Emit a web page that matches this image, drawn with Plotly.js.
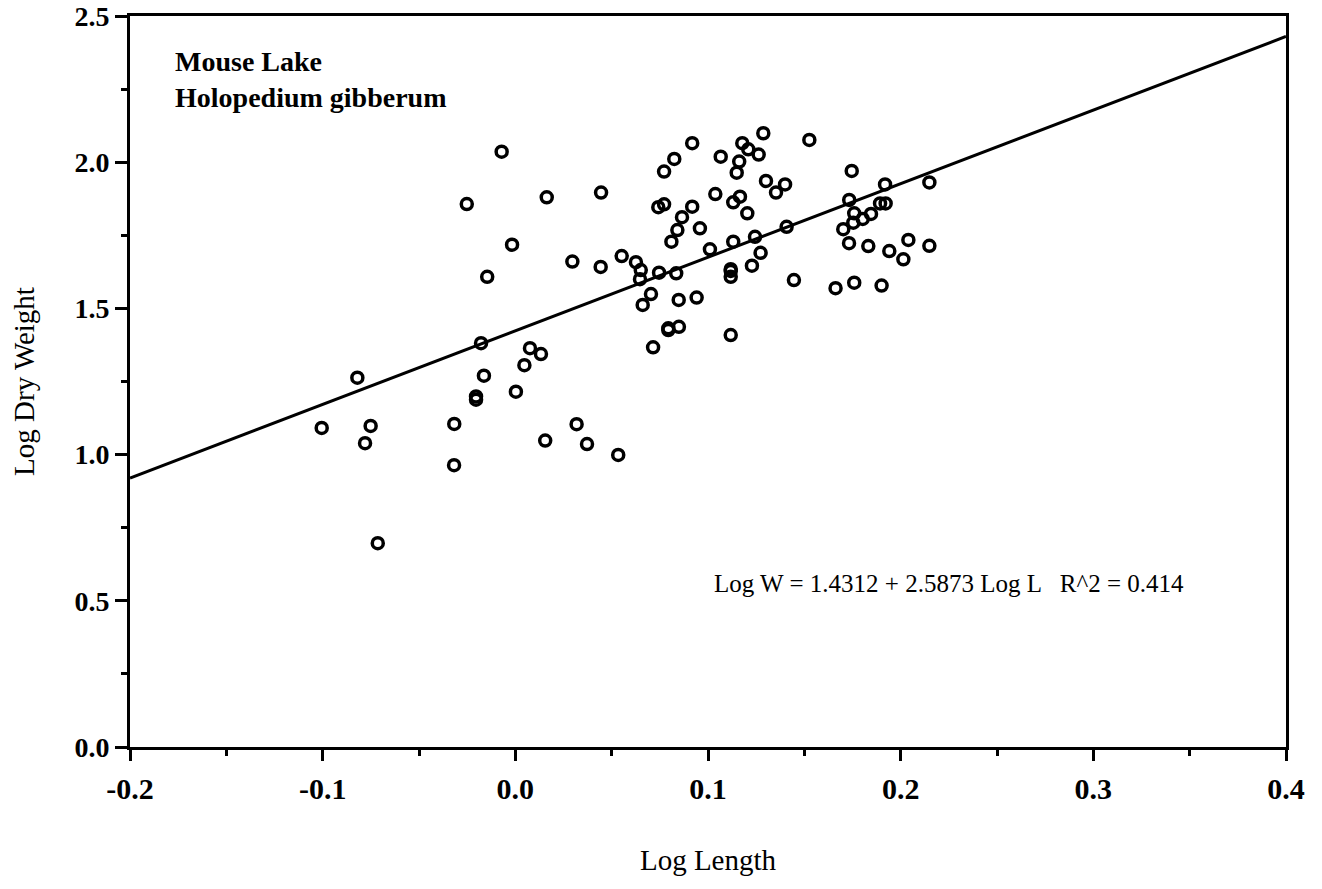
<!DOCTYPE html>
<html>
<head>
<meta charset="utf-8">
<script src="https://cdn.plot.ly/plotly-3.0.1.min.js"></script>
<style>
  html, body { margin: 0; padding: 0; background: #ffffff; }
  #chart { width: 1322px; height: 889px; }
</style>
</head>
<body>
<div id="chart"></div>
<script>
// Observed points: Log Length (x) and Log Dry Weight (y)
const logLength = [
  -0.1005, -0.0820, -0.0780, -0.0751, -0.0714, -0.0317, -0.0318, -0.0252, -0.0163, -0.0178,
  -0.0146, -0.0204, -0.0204, -0.0071, -0.0017, 0.0003, 0.0047, 0.0076, 0.0133, 0.0155,
  0.0163, 0.0296, 0.0318, 0.0372, 0.0445, 0.0443, 0.0534, 0.0552, 0.0626, 0.0651,
  0.0647, 0.0661, 0.0704, 0.0715, 0.0746, 0.0742, 0.0772, 0.0772, 0.0794, 0.0794,
  0.0810, 0.0825, 0.0835, 0.0841, 0.0848, 0.0849, 0.0865, 0.0918, 0.0918, 0.0941,
  0.0958, 0.1010, 0.1038, 0.1066, 0.1118, 0.1118, 0.1118, 0.1118, 0.1131, 0.1131,
  0.1149, 0.1162, 0.1166, 0.1178, 0.1204, 0.1209, 0.1228, 0.1244, 0.1263, 0.1273,
  0.1287, 0.1301, 0.1353, 0.1400, 0.1408, 0.1446, 0.1526, 0.1662, 0.1702, 0.1732,
  0.1733, 0.1746, 0.1754, 0.1759, 0.1759, 0.1803, 0.1832, 0.1846, 0.1893, 0.1901,
  0.1919, 0.1922, 0.1941, 0.2014, 0.2040, 0.2149, 0.2149
];
const logDryWeight = [
  1.091, 1.263, 1.039, 1.098, 0.697, 1.105, 0.964, 1.857, 1.270, 1.381,
  1.608, 1.199, 1.188, 2.036, 1.718, 1.215, 1.306, 1.364, 1.344, 1.048,
  1.880, 1.660, 1.104, 1.036, 1.896, 1.642, 0.999, 1.679, 1.658, 1.631,
  1.600, 1.512, 1.549, 1.367, 1.622, 1.846, 1.856, 1.968, 1.432, 1.426,
  1.728, 2.011, 1.620, 1.768, 1.529, 1.437, 1.812, 1.848, 2.065, 1.537,
  1.774, 1.702, 1.891, 2.019, 1.634, 1.628, 1.608, 1.409, 1.728, 1.863,
  1.964, 2.002, 1.882, 2.065, 1.825, 2.044, 1.646, 1.745, 2.026, 1.690,
  2.099, 1.936, 1.896, 1.924, 1.779, 1.597, 2.076, 1.569, 1.771, 1.723,
  1.871, 1.970, 1.793, 1.825, 1.588, 1.806, 1.713, 1.823, 1.859, 1.578,
  1.924, 1.859, 1.696, 1.668, 1.734, 1.931, 1.714
];

// Fitted regression line (endpoints)
const fitLineX = [-0.2, 0.4];
const fitLineY = [0.92, 2.43];

// Tick labels
const xTickVals = [-0.2, -0.1, 0.0, 0.1, 0.2, 0.3, 0.4];
const xTickText = ['-0.2', '-0.1', '0.0', '0.1', '0.2', '0.3', '0.4'];
const yTickVals = [0.0, 0.5, 1.0, 1.5, 2.0, 2.5];
const yTickText = ['0.0', '0.5', '1.0', '1.5', '2.0', '2.5'];

// Texts
const siteLabel = 'Mouse Lake';
const speciesLabel = 'Holopedium gibberum';
const equationLabel = 'Log W = 1.4312 + 2.5873 Log L   R^2 = 0.414';

const serif = 'Liberation Serif, Times New Roman, serif';

const traces = [
  {
    x: fitLineX, y: fitLineY,
    type: 'scatter', mode: 'lines',
    line: { color: '#000000', width: 3 },
    hoverinfo: 'skip', showlegend: false
  },
  {
    x: logLength, y: logDryWeight,
    type: 'scatter', mode: 'markers',
    marker: { symbol: 'circle-open', size: 11, color: '#000000', line: { color: '#000000', width: 3.5 } },
    showlegend: false
  }
];

const axisCommon = {
  showline: true, linewidth: 3, linecolor: '#000000', mirror: true,
  showgrid: false, zeroline: false,
  ticks: 'outside', tickwidth: 3, tickcolor: '#000000',
  tickmode: 'array',
  ticklabeloverflow: 'allow'
};

const layout = {
  width: 1322, height: 889,
  margin: { l: 130, r: 36, t: 16, b: 142 },
  paper_bgcolor: '#ffffff', plot_bgcolor: '#ffffff',
  showlegend: false,
  xaxis: Object.assign({}, axisCommon, {
    range: [-0.2, 0.4],
    tickvals: xTickVals, ticktext: xTickText,
    tickfont: { family: serif, size: 30, color: '#000000', weight: 'bold' },
    ticklen: 11,
    ticklabelstandoff: 2,
    minor: { dtick: 0.05, tick0: 0, ticks: 'outside', ticklen: 6, tickwidth: 3, tickcolor: '#000000', showgrid: false },
    title: { text: 'Log Length', standoff: 46, font: { family: serif, size: 29, color: '#000000' } }
  }),
  yaxis: Object.assign({}, axisCommon, {
    range: [0, 2.5],
    tickvals: yTickVals, ticktext: yTickText,
    tickfont: { family: serif, size: 28, color: '#000000', weight: 'bold' },
    ticklen: 12,
    minor: { dtick: 0.25, tick0: 0, ticks: 'outside', ticklen: 6, tickwidth: 3, tickcolor: '#000000', showgrid: false },
    title: { text: 'Log Dry Weight', standoff: 32, font: { family: serif, size: 29, color: '#000000' } }
  }),
  annotations: [
    {
      xref: 'paper', yref: 'paper', x: 0.037, y: 0.962,
      xanchor: 'left', yanchor: 'top', align: 'left', showarrow: false,
      text: siteLabel + '<br>' + speciesLabel,
      font: { family: serif, size: 28, color: '#000000', weight: 'bold' }
    },
    {
      xref: 'paper', yref: 'paper', x: 0.7085, y: 0.223,
      xanchor: 'center', yanchor: 'middle', showarrow: false,
      text: equationLabel,
      font: { family: serif, size: 25, color: '#000000' }
    }
  ]
};

Plotly.newPlot('chart', traces, layout, { staticPlot: true, displayModeBar: false });
</script>
</body>
</html>
